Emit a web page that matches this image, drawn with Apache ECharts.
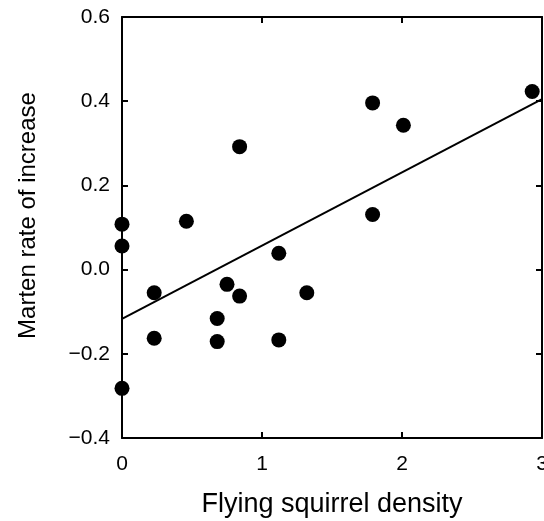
<!DOCTYPE html>
<html>
<head>
<meta charset="utf-8">
<script src="https://cdn.jsdelivr.net/npm/echarts@6/dist/echarts.min.js"></script>
<style>
  html, body { margin: 0; padding: 0; background: #fff; }
  #chart { width: 544px; height: 521px; }
</style>
</head>
<body>
<div id="chart"></div>
<script>
// flying squirrel density vs marten rate of increase
const squirrelDensity = [0, 0, 0, 0.23, 0.23, 0.46, 0.68, 0.68, 0.75, 0.84, 0.84, 1.12, 1.12, 1.32, 1.79, 1.79, 2.01, 2.93];
const martenRate = [0.108, 0.056, -0.282, -0.055, -0.163, 0.115, -0.116, -0.171, -0.035, -0.063, 0.292, 0.039, -0.167, -0.055, 0.396, 0.131, 0.343, 0.423];

// fitted line end points
const fitX = [0, 3];
const fitY = [-0.117, 0.405];

const xTicks = [0, 1, 2, 3];
const yTicks = [-0.4, -0.2, 0.0, 0.2, 0.4, 0.6];

const font = 'Liberation Sans, Arial, Helvetica, sans-serif';

let points = squirrelDensity.map((x, i) => [x, martenRate[i]]);
let fitLine = fitX.map((x, i) => [x, fitY[i]]);

var myChart = echarts.init(document.getElementById('chart'));
const axisLine = { show: true, onZero: false, lineStyle: { color: '#000', width: 2 } };
const axisTick = { show: true, inside: true, length: 6, lineStyle: { color: '#000', width: 2 } };

myChart.setOption({
    animation: false,
    grid: { left: 122, right: 2, top: 17, bottom: 83, containLabel: false, outerBoundsMode: 'none' },
    xAxis: [{
        type: 'value',
        min: xTicks[0], max: xTicks[xTicks.length - 1], interval: 1,
        name: 'Flying squirrel density',
        nameLocation: 'middle',
        nameGap: 53,
        nameTextStyle: { fontFamily: font, fontSize: 27, color: '#000' },
        axisLine: axisLine,
        axisTick: axisTick,
        axisLabel: { fontFamily: font, fontSize: 21, color: '#000', margin: 16, showMaxLabel: true },
        splitLine: { show: false }
    }, {
        type: 'value', position: 'top',
        min: xTicks[0], max: xTicks[xTicks.length - 1], interval: 1,
        axisLine: axisLine, axisTick: axisTick,
        axisLabel: { show: false }, splitLine: { show: false }
    }],
    yAxis: [{
        type: 'value',
        min: yTicks[0], max: yTicks[yTicks.length - 1], interval: 0.2,
        name: 'Marten rate of increase',
        nameLocation: 'middle',
        nameGap: 82,
        nameTextStyle: { fontFamily: font, fontSize: 24, color: '#000', padding: [0, 0, 0, 24] },
        axisLine: axisLine,
        axisTick: axisTick,
        axisLabel: {
            fontFamily: font, fontSize: 21, color: '#000', margin: 12,
            formatter: (v) => v.toFixed(1).replace('-', '\u2212')
        },
        splitLine: { show: false }
    }, {
        type: 'value', position: 'right',
        min: yTicks[0], max: yTicks[yTicks.length - 1], interval: 0.2,
        axisLine: axisLine, axisTick: axisTick,
        axisLabel: { show: false }, splitLine: { show: false }
    }],
    series: [{
        type: 'line',
        data: fitLine,
        symbol: 'none',
        lineStyle: { color: '#000', width: 2 },
        z: 2
    }, {
        type: 'scatter',
        data: points,
        symbolSize: 15,
        itemStyle: { color: '#000', opacity: 1 },
        z: 3
    }]
});
</script>
</body>
</html>
